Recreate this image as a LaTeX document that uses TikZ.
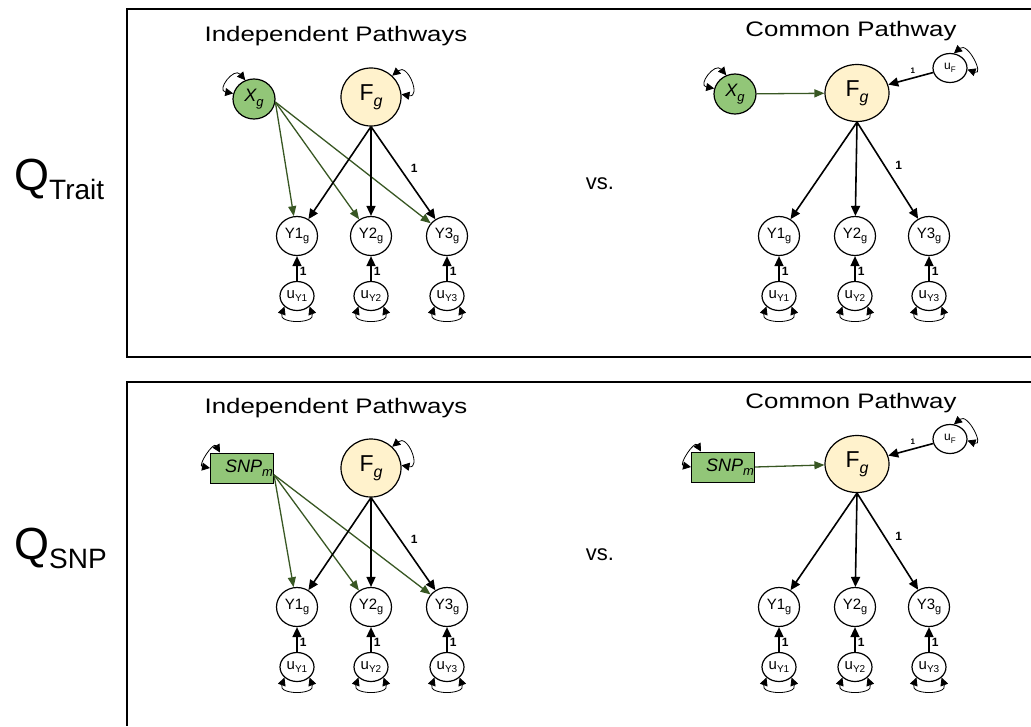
\documentclass[tikz,border=0pt]{standalone}
\usepackage{fontspec}
\setmainfont{Liberation Sans}
\usepackage{tikz}
\usetikzlibrary{shapes.geometric, arrows, positioning, arrows.meta, calc}
\definecolor{xgreen}{RGB}{146,198,120}
\definecolor{pathgreen}{RGB}{56,87,35}
\definecolor{factor}{RGB}{255,242,204}
\newcommand{\lsub}[2]{\raisebox{-0.25em}{\fontsize{#1}{#1}\selectfont #2}}
\newcommand{\widetext}[1]{\scalebox{1.23}[1]{#1}}
\tikzstyle{frame} = [line width=1.2pt]
\tikzstyle{title} = [font=\fontsize{21}{24}\selectfont]
\tikzstyle{rowlabel} = [anchor=base west, inner sep=0pt, font=\fontsize{45}{45}\selectfont]
\tikzstyle{versus} = [font=\fontsize{22}{24}\selectfont]
\tikzstyle{latent} = [ellipse, draw=black, line width=1.2pt, fill=factor, minimum width=60pt, minimum height=58pt, inner sep=0pt, font=\fontsize{23}{25}\selectfont]
\tikzstyle{covar} = [ellipse, draw=black, line width=1.2pt, fill=xgreen, minimum width=42pt, minimum height=40pt, inner sep=0pt, font=\fontsize{18}{20}\selectfont\itshape]
\tikzstyle{snp} = [rectangle, draw=black, line width=1pt, fill=xgreen, minimum width=63pt, minimum height=30pt, inner sep=0pt, font=\fontsize{18}{20}\selectfont\itshape]
\tikzstyle{indicator} = [ellipse, draw=black, line width=1.2pt, fill=white, minimum width=41pt, minimum height=39pt, inner sep=0pt, font=\fontsize{15}{17}\selectfont]
\tikzstyle{resid} = [ellipse, draw=black, line width=1.2pt, fill=white, minimum width=34pt, minimum height=29pt, inner sep=0pt, font=\fontsize{15}{17}\selectfont]
\tikzstyle{arrow} = [line width=1.6pt, -{Triangle[length=10pt,width=9pt]}]
\tikzstyle{greenarrow} = [line width=1.3pt, draw=pathgreen, -{Triangle[length=10pt,width=8pt]}]
\tikzstyle{selfloop} = [line width=0.8pt, {Triangle[length=8pt,width=8pt]}-{Triangle[length=8pt,width=8pt]}]
\tikzstyle{weight} = [font=\fontsize{12}{13}\selectfont\bfseries, inner sep=2pt]

\begin{document}
\begin{tikzpicture}[x=1pt, y=1pt, node distance=75pt]
        \useasboundingbox (0,0) rectangle (1031,-726);

        % frames
        \draw[frame] (1031,-9) -- (127,-9) -- (127,-357) -- (1031,-357);
        \draw[frame] (1031,-382) -- (127,-382) -- (127,-726);

        % row labels
        \node[rowlabel] (QTrait) at (14,-190) {Q\raisebox{-9pt}{\fontsize{28}{28}\selectfont Trait}};
        \node[rowlabel] (QSNP) at (14,-559) {Q\raisebox{-9pt}{\fontsize{28}{28}\selectfont SNP}};
        \node[versus] (VsTrait) at (600,-184) {vs.};
        \node[versus] (VsSNP) at (600,-555) {vs.};

        % independent pathways, trait
        \node[title] (IndepTrait) at (336,-36) {\widetext{Independent Pathways}};
        \node[latent] (FgA) at (371,-97) {F\lsub{16}{\itshape g}};
        \node[covar] (XgA) at (254,-99) {X\lsub{13}{g}};
        \node[indicator, below of = FgA, yshift=-64pt] (Y2A) {Y2\lsub{11}{g}};
        \node[indicator, left of = Y2A, xshift=1pt] (Y1A) {Y1\lsub{11}{g}};
        \node[indicator, right of = Y2A, xshift=1pt] (Y3A) {Y3\lsub{11}{g}};
        \node[resid, below of = Y1A, yshift=15pt] (U1A) {u\lsub{10}{Y1}};
        \node[resid, below of = Y2A, yshift=15pt] (U2A) {u\lsub{10}{Y2}};
        \node[resid, below of = Y3A, yshift=15pt] (U3A) {u\lsub{10}{Y3}};
        \draw [greenarrow] (XgA.-8) -- (Y1A);
        \draw [greenarrow] (XgA.-8) -- (Y2A);
        \draw [greenarrow] (XgA.-8) -- (Y3A);
        \draw [arrow] (FgA.south) -- (Y1A);
        \draw [arrow] (FgA.south) -- (Y2A);
        \draw [arrow] (FgA.south) -- node[weight, pos=0.45, right=8pt] {1} (Y3A);
        \draw [arrow] (U1A) -- node[weight, right, pos=0.4] {1} (Y1A);
        \draw [arrow] (U2A) -- node[weight, right, pos=0.4] {1} (Y2A);
        \draw [arrow] (U3A) -- node[weight, right, pos=0.4] {1} (Y3A);
        \draw [selfloop] (FgA.45) to[out=40, in=-10, looseness=2.5] (FgA.5);
        \draw [selfloop] (XgA.115) to[out=130, in=170, looseness=2.5] (XgA.165);
        \draw [selfloop] (U1A.-140) to[out=-110, in=-70, looseness=1.9] (U1A.-40);
        \draw [selfloop] (U2A.-140) to[out=-110, in=-70, looseness=1.9] (U2A.-40);
        \draw [selfloop] (U3A.-140) to[out=-110, in=-70, looseness=1.9] (U3A.-40);

        % common pathway, trait
        \node[title] (CommonTrait) at (851,-31) {\widetext{Common Pathway}};
        \node[latent, minimum width=64pt, minimum height=57pt] (FgB) at (857,-93) {F\lsub{16}{\itshape g}};
        \node[covar] (XgB) at (735,-94) {X\lsub{13}{g}};
        \node[resid, font=\fontsize{12}{13}\selectfont] (UFB) at (950,-68) {u\lsub{8}{F}};
        \node[indicator, below of = FgB, yshift=-68pt, xshift=-2pt] (Y2B) {Y2\lsub{11}{g}};
        \node[indicator, left of = Y2B, xshift=-1pt] (Y1B) {Y1\lsub{11}{g}};
        \node[indicator, right of = Y2B, xshift=-1pt] (Y3B) {Y3\lsub{11}{g}};
        \node[resid, below of = Y1B, yshift=15pt] (U1B) {u\lsub{10}{Y1}};
        \node[resid, below of = Y2B, yshift=15pt] (U2B) {u\lsub{10}{Y2}};
        \node[resid, below of = Y3B, yshift=15pt] (U3B) {u\lsub{10}{Y3}};
        \draw [greenarrow] (XgB) -- (FgB);
        \draw [arrow] (UFB) -- node[pos=0.45, above, font=\fontsize{8}{9}\selectfont\bfseries] {1} (FgB);
        \draw [arrow] (FgB.south) -- (Y1B);
        \draw [arrow] (FgB.south) -- (Y2B);
        \draw [arrow] (FgB.south) -- node[weight, pos=0.45, right=8pt] {1} (Y3B);
        \draw [arrow] (U1B) -- node[weight, right, pos=0.4] {1} (Y1B);
        \draw [arrow] (U2B) -- node[weight, right, pos=0.4] {1} (Y2B);
        \draw [arrow] (U3B) -- node[weight, right, pos=0.4] {1} (Y3B);
        \draw [selfloop] (XgB.115) to[out=130, in=170, looseness=2.5] (XgB.165);
        \draw [selfloop] (UFB.75) to[out=40, in=-20, looseness=2.2] (UFB.-5);
        \draw [selfloop] (U1B.-140) to[out=-110, in=-70, looseness=1.9] (U1B.-40);
        \draw [selfloop] (U2B.-140) to[out=-110, in=-70, looseness=1.9] (U2B.-40);
        \draw [selfloop] (U3B.-140) to[out=-110, in=-70, looseness=1.9] (U3B.-40);

        % independent pathways, snp
        \node[title] (IndepSNP) at (336,-408) {\widetext{Independent Pathways}};
        \node[latent] (FgC) at (371,-468) {F\lsub{16}{\itshape g}};
        \node[snp] (SNPC) at (242,-468) {\hspace*{14pt}SNP\lsub{13}{m}};
        \node[indicator, below of = FgC, yshift=-64pt] (Y2C) {Y2\lsub{11}{g}};
        \node[indicator, left of = Y2C, xshift=1pt] (Y1C) {Y1\lsub{11}{g}};
        \node[indicator, right of = Y2C, xshift=1pt] (Y3C) {Y3\lsub{11}{g}};
        \node[resid, below of = Y1C, yshift=15pt] (U1C) {u\lsub{10}{Y1}};
        \node[resid, below of = Y2C, yshift=15pt] (U2C) {u\lsub{10}{Y2}};
        \node[resid, below of = Y3C, yshift=15pt] (U3C) {u\lsub{10}{Y3}};
        \draw [greenarrow] (SNPC.-12) -- (Y1C);
        \draw [greenarrow] (SNPC.-12) -- (Y2C);
        \draw [greenarrow] (SNPC.-12) -- (Y3C);
        \draw [arrow] (FgC.south) -- (Y1C);
        \draw [arrow] (FgC.south) -- (Y2C);
        \draw [arrow] (FgC.south) -- node[weight, pos=0.45, right=8pt] {1} (Y3C);
        \draw [arrow] (U1C) -- node[weight, right, pos=0.4] {1} (Y1C);
        \draw [arrow] (U2C) -- node[weight, right, pos=0.4] {1} (Y2C);
        \draw [arrow] (U3C) -- node[weight, right, pos=0.4] {1} (Y3C);
        \draw [selfloop] (FgC.45) to[out=40, in=-10, looseness=2.5] (FgC.5);
        \draw [selfloop] ([xshift=10pt]SNPC.north west) to[out=120, in=170, looseness=1.8] (SNPC.west);
        \draw [selfloop] (U1C.-140) to[out=-110, in=-70, looseness=1.9] (U1C.-40);
        \draw [selfloop] (U2C.-140) to[out=-110, in=-70, looseness=1.9] (U2C.-40);
        \draw [selfloop] (U3C.-140) to[out=-110, in=-70, looseness=1.9] (U3C.-40);

        % common pathway, snp
        \node[title] (CommonSNP) at (851,-403) {\widetext{Common Pathway}};
        \node[latent, minimum width=64pt, minimum height=57pt] (FgD) at (857,-464) {F\lsub{16}{\itshape g}};
        \node[snp] (SNPD) at (723,-467) {\hspace*{14pt}SNP\lsub{13}{m}};
        \node[resid, font=\fontsize{12}{13}\selectfont] (UFD) at (950,-439) {u\lsub{8}{F}};
        \node[indicator, below of = FgD, yshift=-68pt, xshift=-2pt] (Y2D) {Y2\lsub{11}{g}};
        \node[indicator, left of = Y2D, xshift=-1pt] (Y1D) {Y1\lsub{11}{g}};
        \node[indicator, right of = Y2D, xshift=-1pt] (Y3D) {Y3\lsub{11}{g}};
        \node[resid, below of = Y1D, yshift=15pt] (U1D) {u\lsub{10}{Y1}};
        \node[resid, below of = Y2D, yshift=15pt] (U2D) {u\lsub{10}{Y2}};
        \node[resid, below of = Y3D, yshift=15pt] (U3D) {u\lsub{10}{Y3}};
        \draw [greenarrow] (SNPD.east) -- (FgD);
        \draw [arrow] (UFD) -- node[pos=0.45, above, font=\fontsize{8}{9}\selectfont\bfseries] {1} (FgD);
        \draw [arrow] (FgD.south) -- (Y1D);
        \draw [arrow] (FgD.south) -- (Y2D);
        \draw [arrow] (FgD.south) -- node[weight, pos=0.45, right=8pt] {1} (Y3D);
        \draw [arrow] (U1D) -- node[weight, right, pos=0.4] {1} (Y1D);
        \draw [arrow] (U2D) -- node[weight, right, pos=0.4] {1} (Y2D);
        \draw [arrow] (U3D) -- node[weight, right, pos=0.4] {1} (Y3D);
        \draw [selfloop] ([xshift=10pt]SNPD.north west) to[out=120, in=170, looseness=1.8] (SNPD.west);
        \draw [selfloop] (UFD.75) to[out=40, in=-20, looseness=2.2] (UFD.-5);
        \draw [selfloop] (U1D.-140) to[out=-110, in=-70, looseness=1.9] (U1D.-40);
        \draw [selfloop] (U2D.-140) to[out=-110, in=-70, looseness=1.9] (U2D.-40);
        \draw [selfloop] (U3D.-140) to[out=-110, in=-70, looseness=1.9] (U3D.-40);
\end{tikzpicture}
\end{document}
